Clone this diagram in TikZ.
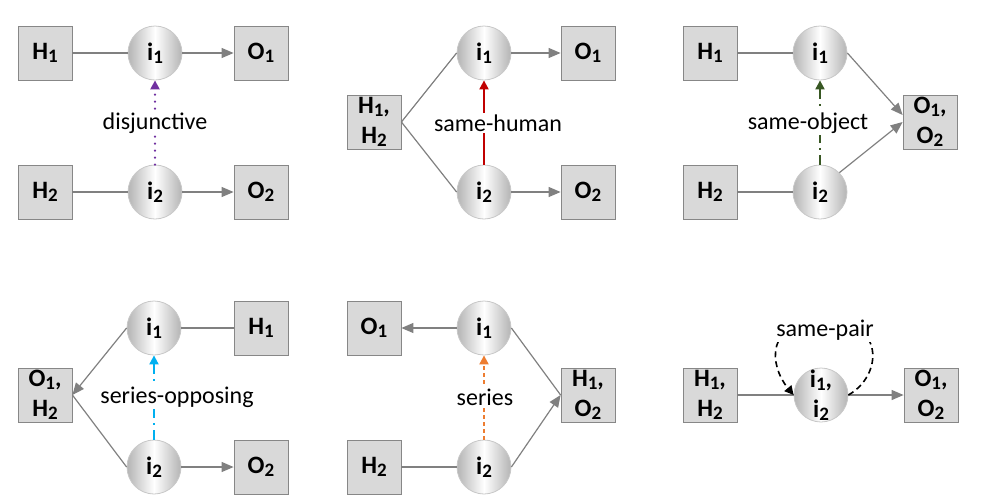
\documentclass[tikz,border=0pt]{standalone}
\usepackage{fontspec}
\setmainfont{Carlito}
\usetikzlibrary{arrows.meta}

\newcommand{\lowidx}[1]{\raisebox{-1.6pt}{\fontsize{9.5}{10}\selectfont#1}}

\begin{document}
\begin{tikzpicture}[x=0.5pt,y=-0.5pt,
  box/.style={draw=boxline, fill=boxfill, minimum size=27pt, inner sep=0pt, align=center,
    font=\fontsize{12.5}{15}\selectfont\bfseries},
  inter/.style={circle, draw=ringline, left color=ringedge, right color=ringedge, middle color=white,
    minimum size=27pt, inner sep=0pt, align=center, font=\fontsize{12.5}{15}\selectfont\bfseries},
  link/.style={draw=wire, line width=0.6pt},
  flow/.style={link, -{Triangle[length=6pt,width=5pt]}},
  rel/.style={line width=1pt, -{Triangle[length=4.5pt,width=4.5pt]}},
  tag/.style={fill=white, inner sep=1pt, font=\fontsize{12}{14}\selectfont}]
  \definecolor{boxfill}{RGB}{217,217,217}
  \definecolor{boxline}{RGB}{135,135,135}
  \definecolor{wire}{RGB}{128,128,128}
  \definecolor{ringline}{RGB}{200,200,200}
  \definecolor{ringedge}{RGB}{180,180,180}
  \definecolor{disj}{RGB}{112,48,160}
  \definecolor{human}{RGB}{192,0,0}
  \definecolor{object}{RGB}{56,87,35}
  \definecolor{oppose}{RGB}{0,176,240}
  \definecolor{serial}{RGB}{237,125,49}

  \useasboundingbox (0,0) rectangle (995,499);

  % disjunctive
  \foreach \r/\y in {1/53,2/192} {
    \node[box] (ha\r) at (45,\y) {H\lowidx{\r}};
    \node[inter] (ia\r) at (155,\y) {i\lowidx{\r}};
    \node[box] (oa\r) at (261,\y) {O\lowidx{\r}};
    \draw[link] (ha\r) -- (ia\r);
    \draw[flow] (ia\r) -- (oa\r);
  }
  \draw[rel, disj, line width=1.2pt, line cap=round, dash pattern=on 0pt off 3.5pt] (ia2) -- (ia1);
  \node[tag] (ta) at (155,123) {disjunctive};

  % same-human
  \node[box] (hb) at (374,122) {H\lowidx{1},\\H\lowidx{2}};
  \foreach \r/\y in {1/53,2/192} {
    \node[inter] (ib\r) at (484,\y) {i\lowidx{\r}};
    \node[box] (ob\r) at (588,\y) {O\lowidx{\r}};
    \draw[link] (hb.east) -- (ib\r.west);
    \draw[flow] (ib\r) -- (ob\r);
  }
  \draw[rel, human] (ib2) -- (ib1);
  \node[tag] (tb) at (498,123) {same-human};

  % same-object
  \node[box] (oc) at (930,122) {O\lowidx{1},\\O\lowidx{2}};
  \foreach \r/\y in {1/53,2/192} {
    \node[box] (hc\r) at (710,\y) {H\lowidx{\r}};
    \node[inter] (ic\r) at (820,\y) {i\lowidx{\r}};
    \draw[link] (hc\r) -- (ic\r);
  }
  \draw[flow] (ic1.east) -- ([yshift=3.5pt]oc.west);
  \draw[flow] (ic2.north east) -- (oc.west);
  \draw[rel, object, dash pattern=on 5pt off 2.5pt on 1pt off 2.5pt] (ic2) -- (ic1);
  \node[tag] (tc) at (808,123) {same-object};

  % series-opposing
  \node[box] (od) at (45,395) {O\lowidx{1},\\H\lowidx{2}};
  \node[inter] (id1) at (154,328) {i\lowidx{1}};
  \node[box] (hd1) at (261,328) {H\lowidx{1}};
  \node[inter] (id2) at (154,467) {i\lowidx{2}};
  \node[box] (od2) at (261,467) {O\lowidx{2}};
  \draw[link] (id1) -- (hd1);
  \draw[flow] (id1.west) -- (od.east);
  \draw[link] (od.east) -- (id2.west);
  \draw[flow] (id2) -- (od2);
  \draw[rel, oppose, dash pattern=on 5pt off 2.5pt on 1pt off 2.5pt] (id2) -- (id1);
  \node[tag] (td) at (177,397) {series-opposing};

  % series
  \node[box] (oe1) at (374,328) {O\lowidx{1}};
  \node[inter] (ie1) at (484,328) {i\lowidx{1}};
  \node[box] (he) at (588,395) {H\lowidx{1},\\O\lowidx{2}};
  \node[box] (he2) at (374,467) {H\lowidx{2}};
  \node[inter] (ie2) at (484,467) {i\lowidx{2}};
  \draw[flow] (ie1) -- (oe1);
  \draw[link] (ie1.east) -- (he.west);
  \draw[link] (he2) -- (ie2);
  \draw[flow] (ie2.east) -- (he.west);
  \draw[rel, serial, dash pattern=on 2pt off 1.5pt] (ie2) -- (ie1);
  \node[tag] (te) at (485,397) {series};

  % same-pair
  \node[box] (hf) at (710,395) {H\lowidx{1},\\H\lowidx{2}};
  \node[inter] (pf) at (821,395) {};
  \node[font=\fontsize{12.5}{15}\selectfont\bfseries, align=center] (pftext) at (pf) {i\lowidx{1},\\i\lowidx{2}};
  \node[box] (of) at (931,395) {O\lowidx{1},\\O\lowidx{2}};
  \coordinate (looptop) at (825,320);
  \draw[link] (hf) -- (pf);
  \draw[flow] (pf) -- (of);
  \draw[rel, black, line width=0.8pt, dash pattern=on 3pt off 2pt]
    (pf.east) .. controls +(35,-20) and +(60,0) .. (looptop)
    .. controls +(-60,0) and +(-25,-30) .. (pf.west);
  \node[tag] (tf) at (825,330) {same-pair};
\end{tikzpicture}
\end{document}
